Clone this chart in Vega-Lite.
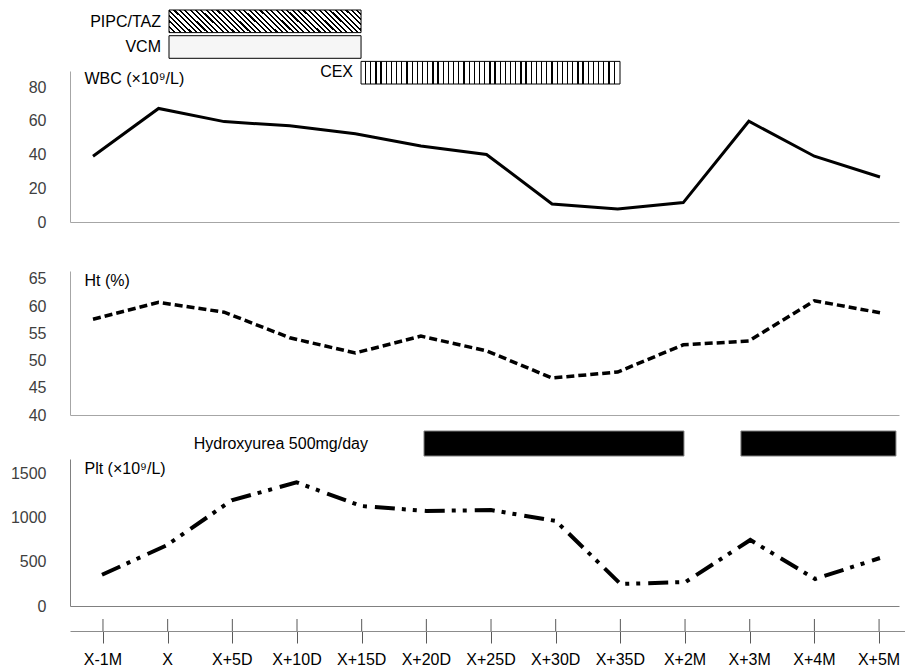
{
  "$schema": "https://vega.github.io/schema/vega-lite/v6.json",
  "background": "white",
  "padding": {"left": 10, "top": 9, "right": 0, "bottom": 0},
  "bounds": "flush",
  "spacing": 13,
  "config": {
    "view": {"stroke": null},
    "font": "Liberation Sans",
    "axis": {"grid": false, "ticks": false, "tickSize": 0, "labelFont": "Liberation Sans", "labelFontSize": 16, "labelColor": "#404040", "labelPadding": 24, "domainColor": "#a6a6a6", "domainWidth": 1, "titleFont": "Liberation Sans", "titleFontSize": 16, "titleFontWeight": "normal", "titleColor": "#000000", "format": "d"},
    "text": {"font": "Liberation Sans", "fontSize": 16, "color": "#000000"}
  },
  "datasets": {
    "labs": [
      {"t": 0, "time": "X-1M", "wbc": 39, "ht": 57.6, "plt": 355},
      {"t": 1, "time": "X", "wbc": 67.3, "ht": 60.7, "plt": 690},
      {"t": 2, "time": "X+5D", "wbc": 59.5, "ht": 58.9, "plt": 1200},
      {"t": 3, "time": "X+10D", "wbc": 57, "ht": 54.2, "plt": 1405},
      {"t": 4, "time": "X+15D", "wbc": 52.3, "ht": 51.4, "plt": 1136},
      {"t": 5, "time": "X+20D", "wbc": 45, "ht": 54.5, "plt": 1080},
      {"t": 6, "time": "X+25D", "wbc": 40, "ht": 51.8, "plt": 1090},
      {"t": 7, "time": "X+30D", "wbc": 10.7, "ht": 46.8, "plt": 966},
      {"t": 8, "time": "X+35D", "wbc": 7.7, "ht": 47.9, "plt": 250},
      {"t": 9, "time": "X+2M", "wbc": 11.5, "ht": 52.9, "plt": 272},
      {"t": 10, "time": "X+3M", "wbc": 59.7, "ht": 53.6, "plt": 750},
      {"t": 11, "time": "X+4M", "wbc": 39, "ht": 61, "plt": 307},
      {"t": 12, "time": "X+5M", "wbc": 26.7, "ht": 58.8, "plt": 545}
    ],
    "abx": [
      {"drug": "PIPC/TAZ", "start": 1.159, "end": 4.087},
      {"drug": "VCM", "start": 1.159, "end": 4.087},
      {"drug": "CEX", "start": 4.087, "end": 8.036}
    ],
    "hu": [
      {"drug": "Hydroxyurea 500mg/day", "start": 4.967, "end": 8.977},
      {"drug": "Hydroxyurea 500mg/day", "start": 9.856, "end": 12.247}
    ]
  },
  "resolve": {"scale": {"x": "independent"}},
  "vconcat": [
    {
      "width": 829,
      "height": 212,
      "resolve": {"scale": {"y": "independent"}, "axis": {"y": "independent"}},
      "layer": [
        {
          "data": {"name": "labs"},
          "mark": {"type": "line", "color": "#000000", "strokeWidth": 3},
          "encoding": {
            "x": {"field": "t", "type": "quantitative", "scale": {"domain": [-0.3507, 12.29], "nice": false, "zero": false}, "axis": {"title": null, "labels": false, "ticks": false}},
            "y": {"field": "wbc", "type": "quantitative", "scale": {"domain": [0, 89.5], "range": [212, 61], "nice": false, "zero": false}, "axis": {"orient": "left", "values": [0, 20, 40, 60, 80], "title": "WBC (×10⁹/L)", "titleAngle": 0, "titleAlign": "left", "titleBaseline": "middle", "titleX": 14, "titleY": 68}}
          }
        },
        {
          "data": {"name": "abx"},
          "transform": [{"filter": "datum.drug === 'PIPC/TAZ'"}],
          "mark": {"type": "bar", "stroke": "#000000", "strokeWidth": 1, "fill": {"gradient": "linear", "x1": 0, "y1": 1, "x2": 1.104, "y2": 0.868, "stops": [
            {"offset": 0, "color": "#000"}, {"offset": 0.01, "color": "#000"}, {"offset": 0.01, "color": "#fff"}, {"offset": 0.025, "color": "#fff"},
            {"offset": 0.025, "color": "#000"}, {"offset": 0.035, "color": "#000"}, {"offset": 0.035, "color": "#fff"}, {"offset": 0.05, "color": "#fff"},
            {"offset": 0.05, "color": "#000"}, {"offset": 0.06, "color": "#000"}, {"offset": 0.06, "color": "#fff"}, {"offset": 0.075, "color": "#fff"},
            {"offset": 0.075, "color": "#000"}, {"offset": 0.085, "color": "#000"}, {"offset": 0.085, "color": "#fff"}, {"offset": 0.1, "color": "#fff"},
            {"offset": 0.1, "color": "#000"}, {"offset": 0.11, "color": "#000"}, {"offset": 0.11, "color": "#fff"}, {"offset": 0.125, "color": "#fff"},
            {"offset": 0.125, "color": "#000"}, {"offset": 0.135, "color": "#000"}, {"offset": 0.135, "color": "#fff"}, {"offset": 0.15, "color": "#fff"},
            {"offset": 0.15, "color": "#000"}, {"offset": 0.16, "color": "#000"}, {"offset": 0.16, "color": "#fff"}, {"offset": 0.175, "color": "#fff"},
            {"offset": 0.175, "color": "#000"}, {"offset": 0.185, "color": "#000"}, {"offset": 0.185, "color": "#fff"}, {"offset": 0.2, "color": "#fff"},
            {"offset": 0.2, "color": "#000"}, {"offset": 0.21, "color": "#000"}, {"offset": 0.21, "color": "#fff"}, {"offset": 0.225, "color": "#fff"},
            {"offset": 0.225, "color": "#000"}, {"offset": 0.235, "color": "#000"}, {"offset": 0.235, "color": "#fff"}, {"offset": 0.25, "color": "#fff"},
            {"offset": 0.25, "color": "#000"}, {"offset": 0.26, "color": "#000"}, {"offset": 0.26, "color": "#fff"}, {"offset": 0.275, "color": "#fff"},
            {"offset": 0.275, "color": "#000"}, {"offset": 0.285, "color": "#000"}, {"offset": 0.285, "color": "#fff"}, {"offset": 0.3, "color": "#fff"},
            {"offset": 0.3, "color": "#000"}, {"offset": 0.31, "color": "#000"}, {"offset": 0.31, "color": "#fff"}, {"offset": 0.325, "color": "#fff"},
            {"offset": 0.325, "color": "#000"}, {"offset": 0.335, "color": "#000"}, {"offset": 0.335, "color": "#fff"}, {"offset": 0.35, "color": "#fff"},
            {"offset": 0.35, "color": "#000"}, {"offset": 0.36, "color": "#000"}, {"offset": 0.36, "color": "#fff"}, {"offset": 0.375, "color": "#fff"},
            {"offset": 0.375, "color": "#000"}, {"offset": 0.385, "color": "#000"}, {"offset": 0.385, "color": "#fff"}, {"offset": 0.4, "color": "#fff"},
            {"offset": 0.4, "color": "#000"}, {"offset": 0.41, "color": "#000"}, {"offset": 0.41, "color": "#fff"}, {"offset": 0.425, "color": "#fff"},
            {"offset": 0.425, "color": "#000"}, {"offset": 0.435, "color": "#000"}, {"offset": 0.435, "color": "#fff"}, {"offset": 0.45, "color": "#fff"},
            {"offset": 0.45, "color": "#000"}, {"offset": 0.46, "color": "#000"}, {"offset": 0.46, "color": "#fff"}, {"offset": 0.475, "color": "#fff"},
            {"offset": 0.475, "color": "#000"}, {"offset": 0.485, "color": "#000"}, {"offset": 0.485, "color": "#fff"}, {"offset": 0.5, "color": "#fff"},
            {"offset": 0.5, "color": "#000"}, {"offset": 0.51, "color": "#000"}, {"offset": 0.51, "color": "#fff"}, {"offset": 0.525, "color": "#fff"},
            {"offset": 0.525, "color": "#000"}, {"offset": 0.535, "color": "#000"}, {"offset": 0.535, "color": "#fff"}, {"offset": 0.55, "color": "#fff"},
            {"offset": 0.55, "color": "#000"}, {"offset": 0.56, "color": "#000"}, {"offset": 0.56, "color": "#fff"}, {"offset": 0.575, "color": "#fff"},
            {"offset": 0.575, "color": "#000"}, {"offset": 0.585, "color": "#000"}, {"offset": 0.585, "color": "#fff"}, {"offset": 0.6, "color": "#fff"},
            {"offset": 0.6, "color": "#000"}, {"offset": 0.61, "color": "#000"}, {"offset": 0.61, "color": "#fff"}, {"offset": 0.625, "color": "#fff"},
            {"offset": 0.625, "color": "#000"}, {"offset": 0.635, "color": "#000"}, {"offset": 0.635, "color": "#fff"}, {"offset": 0.65, "color": "#fff"},
            {"offset": 0.65, "color": "#000"}, {"offset": 0.66, "color": "#000"}, {"offset": 0.66, "color": "#fff"}, {"offset": 0.675, "color": "#fff"},
            {"offset": 0.675, "color": "#000"}, {"offset": 0.685, "color": "#000"}, {"offset": 0.685, "color": "#fff"}, {"offset": 0.7, "color": "#fff"},
            {"offset": 0.7, "color": "#000"}, {"offset": 0.71, "color": "#000"}, {"offset": 0.71, "color": "#fff"}, {"offset": 0.725, "color": "#fff"},
            {"offset": 0.725, "color": "#000"}, {"offset": 0.735, "color": "#000"}, {"offset": 0.735, "color": "#fff"}, {"offset": 0.75, "color": "#fff"},
            {"offset": 0.75, "color": "#000"}, {"offset": 0.76, "color": "#000"}, {"offset": 0.76, "color": "#fff"}, {"offset": 0.775, "color": "#fff"},
            {"offset": 0.775, "color": "#000"}, {"offset": 0.785, "color": "#000"}, {"offset": 0.785, "color": "#fff"}, {"offset": 0.8, "color": "#fff"},
            {"offset": 0.8, "color": "#000"}, {"offset": 0.81, "color": "#000"}, {"offset": 0.81, "color": "#fff"}, {"offset": 0.825, "color": "#fff"},
            {"offset": 0.825, "color": "#000"}, {"offset": 0.835, "color": "#000"}, {"offset": 0.835, "color": "#fff"}, {"offset": 0.85, "color": "#fff"},
            {"offset": 0.85, "color": "#000"}, {"offset": 0.86, "color": "#000"}, {"offset": 0.86, "color": "#fff"}, {"offset": 0.875, "color": "#fff"},
            {"offset": 0.875, "color": "#000"}, {"offset": 0.885, "color": "#000"}, {"offset": 0.885, "color": "#fff"}, {"offset": 0.9, "color": "#fff"},
            {"offset": 0.9, "color": "#000"}, {"offset": 0.91, "color": "#000"}, {"offset": 0.91, "color": "#fff"}, {"offset": 0.925, "color": "#fff"},
            {"offset": 0.925, "color": "#000"}, {"offset": 0.935, "color": "#000"}, {"offset": 0.935, "color": "#fff"}, {"offset": 0.95, "color": "#fff"},
            {"offset": 0.95, "color": "#000"}, {"offset": 0.96, "color": "#000"}, {"offset": 0.96, "color": "#fff"}, {"offset": 0.975, "color": "#fff"},
            {"offset": 0.975, "color": "#000"}, {"offset": 0.985, "color": "#000"}, {"offset": 0.985, "color": "#fff"}, {"offset": 1, "color": "#fff"}
          ]}},
          "encoding": {
            "x": {"field": "start", "type": "quantitative", "scale": {"domain": [-0.3507, 12.29], "nice": false, "zero": false}, "title": null},
            "x2": {"field": "end"},
            "y": {"field": "drug", "type": "nominal", "scale": {"domain": ["PIPC/TAZ", "VCM", "CEX"], "range": [0, 74], "paddingInner": 0.12, "paddingOuter": 0}, "axis": null}
          }
        },
        {
          "data": {"name": "abx"},
          "transform": [{"filter": "datum.drug === 'VCM'"}],
          "mark": {"type": "bar", "stroke": "#000000", "strokeWidth": 1, "fill": "#f6f6f6"},
          "encoding": {
            "x": {"field": "start", "type": "quantitative", "scale": {"domain": [-0.3507, 12.29], "nice": false, "zero": false}, "title": null},
            "x2": {"field": "end"},
            "y": {"field": "drug", "type": "nominal", "scale": {"domain": ["PIPC/TAZ", "VCM", "CEX"], "range": [0, 74], "paddingInner": 0.12, "paddingOuter": 0}, "axis": null}
          }
        },
        {
          "data": {"name": "abx"},
          "transform": [{"filter": "datum.drug === 'CEX'"}],
          "mark": {"type": "bar", "stroke": "#000000", "strokeWidth": 1, "fill": {"gradient": "linear", "x1": 0, "y1": 0, "x2": 1, "y2": 0, "stops": [
            {"offset": 0, "color": "#fff"}, {"offset": 0.015, "color": "#fff"}, {"offset": 0.015, "color": "#000"}, {"offset": 0.02, "color": "#000"},
            {"offset": 0.02, "color": "#fff"}, {"offset": 0.035, "color": "#fff"}, {"offset": 0.035, "color": "#000"}, {"offset": 0.04, "color": "#000"},
            {"offset": 0.04, "color": "#fff"}, {"offset": 0.055, "color": "#fff"}, {"offset": 0.055, "color": "#000"}, {"offset": 0.06, "color": "#000"},
            {"offset": 0.06, "color": "#fff"}, {"offset": 0.075, "color": "#fff"}, {"offset": 0.075, "color": "#000"}, {"offset": 0.08, "color": "#000"},
            {"offset": 0.08, "color": "#fff"}, {"offset": 0.095, "color": "#fff"}, {"offset": 0.095, "color": "#000"}, {"offset": 0.1, "color": "#000"},
            {"offset": 0.1, "color": "#fff"}, {"offset": 0.115, "color": "#fff"}, {"offset": 0.115, "color": "#000"}, {"offset": 0.12, "color": "#000"},
            {"offset": 0.12, "color": "#fff"}, {"offset": 0.135, "color": "#fff"}, {"offset": 0.135, "color": "#000"}, {"offset": 0.14, "color": "#000"},
            {"offset": 0.14, "color": "#fff"}, {"offset": 0.155, "color": "#fff"}, {"offset": 0.155, "color": "#000"}, {"offset": 0.16, "color": "#000"},
            {"offset": 0.16, "color": "#fff"}, {"offset": 0.175, "color": "#fff"}, {"offset": 0.175, "color": "#000"}, {"offset": 0.18, "color": "#000"},
            {"offset": 0.18, "color": "#fff"}, {"offset": 0.195, "color": "#fff"}, {"offset": 0.195, "color": "#000"}, {"offset": 0.2, "color": "#000"},
            {"offset": 0.2, "color": "#fff"}, {"offset": 0.215, "color": "#fff"}, {"offset": 0.215, "color": "#000"}, {"offset": 0.22, "color": "#000"},
            {"offset": 0.22, "color": "#fff"}, {"offset": 0.235, "color": "#fff"}, {"offset": 0.235, "color": "#000"}, {"offset": 0.24, "color": "#000"},
            {"offset": 0.24, "color": "#fff"}, {"offset": 0.255, "color": "#fff"}, {"offset": 0.255, "color": "#000"}, {"offset": 0.26, "color": "#000"},
            {"offset": 0.26, "color": "#fff"}, {"offset": 0.275, "color": "#fff"}, {"offset": 0.275, "color": "#000"}, {"offset": 0.28, "color": "#000"},
            {"offset": 0.28, "color": "#fff"}, {"offset": 0.295, "color": "#fff"}, {"offset": 0.295, "color": "#000"}, {"offset": 0.3, "color": "#000"},
            {"offset": 0.3, "color": "#fff"}, {"offset": 0.315, "color": "#fff"}, {"offset": 0.315, "color": "#000"}, {"offset": 0.32, "color": "#000"},
            {"offset": 0.32, "color": "#fff"}, {"offset": 0.335, "color": "#fff"}, {"offset": 0.335, "color": "#000"}, {"offset": 0.34, "color": "#000"},
            {"offset": 0.34, "color": "#fff"}, {"offset": 0.355, "color": "#fff"}, {"offset": 0.355, "color": "#000"}, {"offset": 0.36, "color": "#000"},
            {"offset": 0.36, "color": "#fff"}, {"offset": 0.375, "color": "#fff"}, {"offset": 0.375, "color": "#000"}, {"offset": 0.38, "color": "#000"},
            {"offset": 0.38, "color": "#fff"}, {"offset": 0.395, "color": "#fff"}, {"offset": 0.395, "color": "#000"}, {"offset": 0.4, "color": "#000"},
            {"offset": 0.4, "color": "#fff"}, {"offset": 0.415, "color": "#fff"}, {"offset": 0.415, "color": "#000"}, {"offset": 0.42, "color": "#000"},
            {"offset": 0.42, "color": "#fff"}, {"offset": 0.435, "color": "#fff"}, {"offset": 0.435, "color": "#000"}, {"offset": 0.44, "color": "#000"},
            {"offset": 0.44, "color": "#fff"}, {"offset": 0.455, "color": "#fff"}, {"offset": 0.455, "color": "#000"}, {"offset": 0.46, "color": "#000"},
            {"offset": 0.46, "color": "#fff"}, {"offset": 0.475, "color": "#fff"}, {"offset": 0.475, "color": "#000"}, {"offset": 0.48, "color": "#000"},
            {"offset": 0.48, "color": "#fff"}, {"offset": 0.495, "color": "#fff"}, {"offset": 0.495, "color": "#000"}, {"offset": 0.5, "color": "#000"},
            {"offset": 0.5, "color": "#fff"}, {"offset": 0.515, "color": "#fff"}, {"offset": 0.515, "color": "#000"}, {"offset": 0.52, "color": "#000"},
            {"offset": 0.52, "color": "#fff"}, {"offset": 0.535, "color": "#fff"}, {"offset": 0.535, "color": "#000"}, {"offset": 0.54, "color": "#000"},
            {"offset": 0.54, "color": "#fff"}, {"offset": 0.555, "color": "#fff"}, {"offset": 0.555, "color": "#000"}, {"offset": 0.56, "color": "#000"},
            {"offset": 0.56, "color": "#fff"}, {"offset": 0.575, "color": "#fff"}, {"offset": 0.575, "color": "#000"}, {"offset": 0.58, "color": "#000"},
            {"offset": 0.58, "color": "#fff"}, {"offset": 0.595, "color": "#fff"}, {"offset": 0.595, "color": "#000"}, {"offset": 0.6, "color": "#000"},
            {"offset": 0.6, "color": "#fff"}, {"offset": 0.615, "color": "#fff"}, {"offset": 0.615, "color": "#000"}, {"offset": 0.62, "color": "#000"},
            {"offset": 0.62, "color": "#fff"}, {"offset": 0.635, "color": "#fff"}, {"offset": 0.635, "color": "#000"}, {"offset": 0.64, "color": "#000"},
            {"offset": 0.64, "color": "#fff"}, {"offset": 0.655, "color": "#fff"}, {"offset": 0.655, "color": "#000"}, {"offset": 0.66, "color": "#000"},
            {"offset": 0.66, "color": "#fff"}, {"offset": 0.675, "color": "#fff"}, {"offset": 0.675, "color": "#000"}, {"offset": 0.68, "color": "#000"},
            {"offset": 0.68, "color": "#fff"}, {"offset": 0.695, "color": "#fff"}, {"offset": 0.695, "color": "#000"}, {"offset": 0.7, "color": "#000"},
            {"offset": 0.7, "color": "#fff"}, {"offset": 0.715, "color": "#fff"}, {"offset": 0.715, "color": "#000"}, {"offset": 0.72, "color": "#000"},
            {"offset": 0.72, "color": "#fff"}, {"offset": 0.735, "color": "#fff"}, {"offset": 0.735, "color": "#000"}, {"offset": 0.74, "color": "#000"},
            {"offset": 0.74, "color": "#fff"}, {"offset": 0.755, "color": "#fff"}, {"offset": 0.755, "color": "#000"}, {"offset": 0.76, "color": "#000"},
            {"offset": 0.76, "color": "#fff"}, {"offset": 0.775, "color": "#fff"}, {"offset": 0.775, "color": "#000"}, {"offset": 0.78, "color": "#000"},
            {"offset": 0.78, "color": "#fff"}, {"offset": 0.795, "color": "#fff"}, {"offset": 0.795, "color": "#000"}, {"offset": 0.8, "color": "#000"},
            {"offset": 0.8, "color": "#fff"}, {"offset": 0.815, "color": "#fff"}, {"offset": 0.815, "color": "#000"}, {"offset": 0.82, "color": "#000"},
            {"offset": 0.82, "color": "#fff"}, {"offset": 0.835, "color": "#fff"}, {"offset": 0.835, "color": "#000"}, {"offset": 0.84, "color": "#000"},
            {"offset": 0.84, "color": "#fff"}, {"offset": 0.855, "color": "#fff"}, {"offset": 0.855, "color": "#000"}, {"offset": 0.86, "color": "#000"},
            {"offset": 0.86, "color": "#fff"}, {"offset": 0.875, "color": "#fff"}, {"offset": 0.875, "color": "#000"}, {"offset": 0.88, "color": "#000"},
            {"offset": 0.88, "color": "#fff"}, {"offset": 0.895, "color": "#fff"}, {"offset": 0.895, "color": "#000"}, {"offset": 0.9, "color": "#000"},
            {"offset": 0.9, "color": "#fff"}, {"offset": 0.915, "color": "#fff"}, {"offset": 0.915, "color": "#000"}, {"offset": 0.92, "color": "#000"},
            {"offset": 0.92, "color": "#fff"}, {"offset": 0.935, "color": "#fff"}, {"offset": 0.935, "color": "#000"}, {"offset": 0.94, "color": "#000"},
            {"offset": 0.94, "color": "#fff"}, {"offset": 0.955, "color": "#fff"}, {"offset": 0.955, "color": "#000"}, {"offset": 0.96, "color": "#000"},
            {"offset": 0.96, "color": "#fff"}, {"offset": 0.975, "color": "#fff"}, {"offset": 0.975, "color": "#000"}, {"offset": 0.98, "color": "#000"},
            {"offset": 0.98, "color": "#fff"}, {"offset": 1, "color": "#fff"}
          ]}},
          "encoding": {
            "x": {"field": "start", "type": "quantitative", "scale": {"domain": [-0.3507, 12.29], "nice": false, "zero": false}, "title": null},
            "x2": {"field": "end"},
            "y": {"field": "drug", "type": "nominal", "scale": {"domain": ["PIPC/TAZ", "VCM", "CEX"], "range": [0, 74], "paddingInner": 0.12, "paddingOuter": 0}, "axis": null}
          }
        },
        {
          "data": {"name": "abx"},
          "mark": {"type": "text", "align": "right", "baseline": "middle", "dx": -8, "fontSize": 16},
          "encoding": {
            "x": {"field": "start", "type": "quantitative", "scale": {"domain": [-0.3507, 12.29], "nice": false, "zero": false}, "title": null},
            "y": {"field": "drug", "type": "nominal", "scale": {"domain": ["PIPC/TAZ", "VCM", "CEX"], "range": [0, 74], "paddingInner": 0.12, "paddingOuter": 0}, "axis": null},
            "text": {"field": "drug"}
          }
        }
      ]
    },
    {
      "width": 829,
      "height": 180,
      "data": {"name": "labs"},
      "mark": {"type": "line", "color": "#000000", "strokeWidth": 3.5, "strokeDash": [8, 4]},
      "encoding": {
        "x": {"field": "t", "type": "quantitative", "scale": {"domain": [-0.3507, 12.29], "nice": false, "zero": false}, "axis": {"title": null, "labels": false, "ticks": false}},
        "y": {"field": "ht", "type": "quantitative", "scale": {"domain": [40, 66.47], "range": [180, 36], "nice": false, "zero": false}, "axis": {"orient": "left", "values": [40, 45, 50, 55, 60, 65], "title": "Ht (%)", "titleAngle": 0, "titleAlign": "left", "titleBaseline": "middle", "titleX": 14, "titleY": 45}}
      }
    },
    {
      "width": 829,
      "height": 178,
      "resolve": {"scale": {"y": "independent"}, "axis": {"y": "independent"}},
      "layer": [
        {
          "data": {"name": "labs"},
          "mark": {"type": "line", "color": "#000000", "strokeWidth": 4, "strokeDash": [20, 7, 4, 7, 4, 8]},
          "encoding": {
            "x": {"field": "t", "type": "quantitative", "scale": {"domain": [-0.4936, 12.294], "nice": false, "zero": false}, "axis": {"title": null, "labels": false, "ticks": false, "domainColor": "#808080"}},
            "y": {"field": "plt", "type": "quantitative", "scale": {"domain": [0, 1670], "range": [178, 31], "nice": false, "zero": false}, "axis": {"orient": "left", "values": [0, 500, 1000, 1500], "format": "d", "domainColor": "#808080", "title": "Plt (×10⁹/L)", "titleAngle": 0, "titleAlign": "left", "titleBaseline": "middle", "titleX": 14, "titleY": 40}}
          }
        },
        {
          "data": {"name": "hu"},
          "mark": {"type": "bar", "fill": "#000000", "stroke": "#7f7f7f", "strokeWidth": 1},
          "encoding": {
            "x": {"field": "start", "type": "quantitative", "scale": {"domain": [-0.4936, 12.294], "nice": false, "zero": false}, "title": null},
            "x2": {"field": "end"},
            "y": {"field": "drug", "type": "nominal", "scale": {"domain": ["Hydroxyurea 500mg/day"], "range": [3, 28], "paddingInner": 0, "paddingOuter": 0}, "axis": null}
          }
        },
        {
          "data": {"name": "hu"},
          "mark": {"type": "text", "align": "right", "baseline": "middle", "dx": -56, "fontSize": 16},
          "encoding": {
            "x": {"aggregate": "min", "field": "start", "type": "quantitative", "scale": {"domain": [-0.4936, 12.294], "nice": false, "zero": false}, "title": null},
            "y": {"field": "drug", "type": "nominal", "scale": {"domain": ["Hydroxyurea 500mg/day"], "range": [3, 28], "paddingInner": 0, "paddingOuter": 0}, "axis": null},
            "text": {"field": "drug"}
          }
        }
      ]
    },
    {
      "width": 835,
      "height": 12,
      "data": {"name": "labs"},
      "layer": [
        {
          "mark": {"type": "rule", "color": "#595959", "strokeWidth": 1},
          "encoding": {
            "x": {"field": "t", "type": "quantitative", "scale": {"domain": [-0.51, 12.401], "nice": false, "zero": false}, "axis": {"title": null, "labels": false, "ticks": true, "tickSize": 12, "tickColor": "#595959", "values": [0, 1, 2, 3, 4, 5, 6, 7, 8, 9, 10, 11, 12], "domainColor": "#8c8c8c"}}
          }
        },
        {
          "mark": {"type": "text", "dy": 35, "fontSize": 16, "baseline": "middle"},
          "encoding": {
            "x": {"field": "t", "type": "quantitative", "scale": {"domain": [-0.51, 12.401], "nice": false, "zero": false}, "title": null},
            "text": {"field": "time"}
          }
        }
      ]
    }
  ]
}
